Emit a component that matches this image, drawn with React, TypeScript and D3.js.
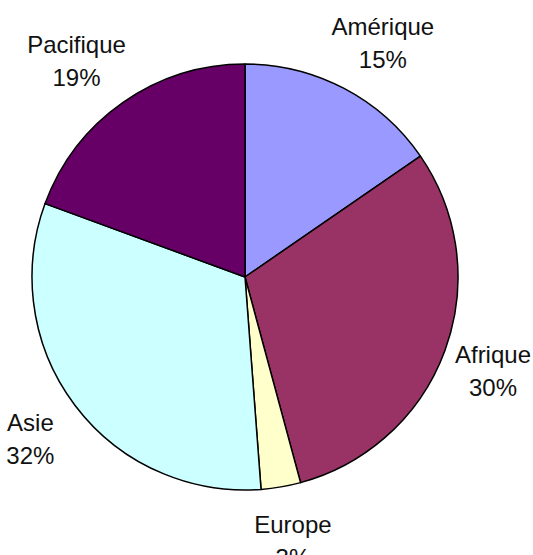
import React from "react";
import * as d3 from "d3";

const categories = ["Amérique", "Afrique", "Europe", "Asie", "Pacifique"];
const values = [15.4, 30.4, 3.0, 31.8, 19.4];
const colors = ["#9999FF", "#993366", "#FFFFCC", "#CCFFFF", "#660066"];

const W = 533;
const H = 555;
const CX = 245;
const CY = 277;
const R = 213;
const FONT = 24;
const LINE = 33;

function textWidth(s: string): number {
  const c = document.createElement("canvas").getContext("2d");
  if (!c) return s.length * FONT * 0.55;
  c.font = `${FONT}px "Liberation Sans", Arial, sans-serif`;
  return c.measureText(s).width;
}

export default function App() {
  const data = categories.map((c, i) => ({ name: c, value: values[i], color: colors[i] }));
  const total = d3.sum(values);
  const pie = d3.pie<any>().sort(null).value((d) => d.value).startAngle(0).endAngle(2 * Math.PI);
  const arcs = pie(data);
  const arc = d3.arc<any>().innerRadius(0).outerRadius(R);
  const fmt = (v: number) => `${Math.round((v / total) * 100)}%`;

  return (
    <svg width={W} height={H} style={{ position: "absolute", left: 0, top: 0, background: "#fff" }}>
      <g transform={`translate(${CX},${CY})`}>
        {arcs.map((a, i) => (
          <path key={i} d={arc(a) || ""} fill={a.data.color} stroke="#000" strokeWidth={1.5} strokeLinejoin="round" />
        ))}
        {arcs.map((a, i) => {
          const mid = (a.startAngle + a.endAngle) / 2;
          const s = Math.sin(mid);
          const c = Math.cos(mid);
          const l1 = a.data.name;
          const l2 = fmt(a.data.value);
          const w = Math.max(textWidth(l1), textWidth(l2));
          const h = LINE + FONT * 0.9;
          const rx = R + 32;
          const ry = R + 26;
          let x = s * rx + s * (w / 2);
          const y = -c * ry - c * (h / 2) + 2;
          // keep labels inside the chart area
          x = Math.min(x, W - CX - 2 - w / 2);
          x = Math.max(x, -CX + 2 + w / 2);
          return (
            <text
              key={"t" + i}
              x={x}
              y={y}
              textAnchor="middle"
              fontFamily='"Liberation Sans", Arial, sans-serif'
              fontSize={FONT}
              fill="#111"
            >
              <tspan x={x} dy={-LINE / 2 + FONT * 0.35}>{l1}</tspan>
              <tspan x={x} dy={LINE}>{l2}</tspan>
            </text>
          );
        })}
      </g>
    </svg>
  );
}
